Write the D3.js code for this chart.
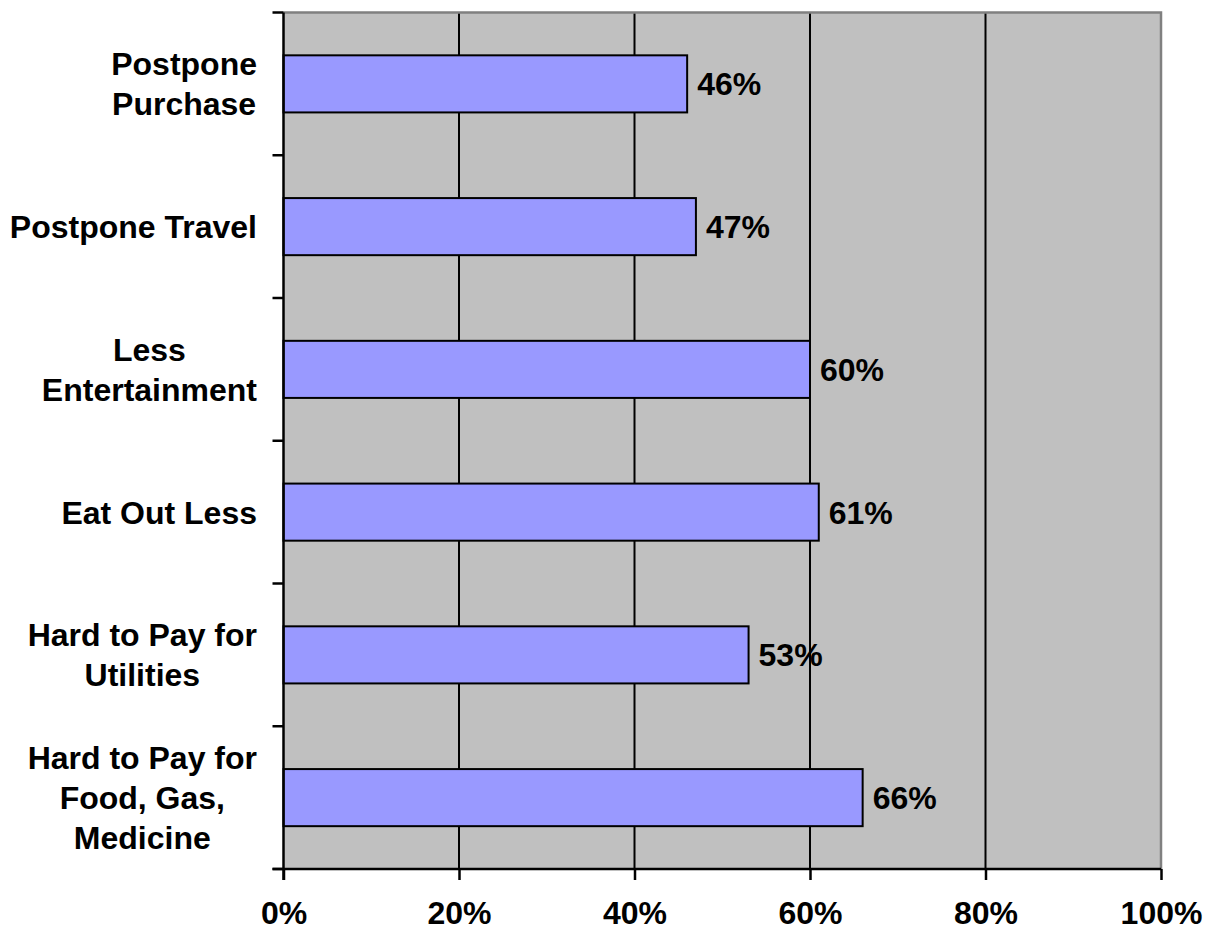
<!DOCTYPE html>
<html>
<head>
<meta charset="utf-8">
<script src="https://cdn.jsdelivr.net/npm/d3@7"></script>
<style>
  body { margin: 0; background: #fff; }
  text { font-family: Arial, "Liberation Sans", sans-serif; font-weight: bold; fill: #000; }
</style>
</head>
<body>
<div class="chart"></div>
<script>
const categories = [
  'Postpone\nPurchase',
  'Postpone Travel',
  'Less\nEntertainment',
  'Eat Out Less',
  'Hard to Pay for\nUtilities',
  'Hard to Pay for\nFood, Gas,\nMedicine'
];
const values = [46, 47, 60, 61, 53, 66];
const xTicks = [0, 20, 40, 60, 80, 100];

const FULL_WIDTH = 1215;
const FULL_HEIGHT = 931;
const FONT = '32px';
const margin = { top: 12.5, right: 54, bottom: 62, left: 283.5 };
const width = FULL_WIDTH - margin.left - margin.right;
const height = FULL_HEIGHT - margin.top - margin.bottom;

const svg = d3.select('.chart')
  .append('svg')
    .attr('width', FULL_WIDTH)
    .attr('height', FULL_HEIGHT)
  .append('g')
    .attr('transform', `translate(${margin.left}, ${margin.top})`);

const xScale = d3.scaleLinear()
  .domain([0, 100])
  .range([0, width]);

// bands for the category ticks, and a padded copy for the bars
const yScale = d3.scaleBand()
  .domain(categories)
  .range([0, height])
  .padding(0);
const barScale = d3.scaleBand()
  .domain(categories)
  .range([0, height])
  .paddingInner(0.6)
  .paddingOuter(0.3);

// plot background
svg.append('rect')
  .attr('width', width)
  .attr('height', height)
  .attr('fill', '#c0c0c0');

// grid lines
svg.selectAll('.grid')
  .data(xTicks.slice(1, -1))
  .enter()
  .append('line')
    .attr('x1', d => xScale(d))
    .attr('x2', d => xScale(d))
    .attr('y1', 0)
    .attr('y2', height)
    .attr('stroke', '#000')
    .attr('stroke-width', 2);

// gray frame on top and right
svg.append('path')
  .attr('d', `M0,0H${width}V${height}`)
  .attr('fill', 'none')
  .attr('stroke', '#808080')
  .attr('stroke-width', 2.5);

// bars
svg.selectAll('.bar')
  .data(values)
  .enter()
  .append('rect')
    .attr('x', 0)
    .attr('y', (d, i) => barScale(categories[i]))
    .attr('width', d => xScale(d))
    .attr('height', barScale.bandwidth())
    .attr('fill', '#9999ff')
    .attr('stroke', '#000')
    .attr('stroke-width', 2);

// value labels
svg.selectAll('.val')
  .data(values)
  .enter()
  .append('text')
    .attr('x', d => xScale(d) + 10)
    .attr('y', (d, i) => barScale(categories[i]) + barScale.bandwidth() / 2)
    .attr('dy', '0.36em')
    .style('font-size', FONT)
    .text(d => d + '%');

// x axis
const xAxis = svg.append('g')
  .attr('transform', `translate(0, ${height})`)
  .call(d3.axisBottom(xScale)
    .tickValues(xTicks)
    .tickSize(11)
    .tickPadding(21)
    .tickFormat(d => d + '%'));
xAxis.select('.domain').attr('stroke', '#000').attr('stroke-width', 2.5)
  .attr('d', `M-11,0H${width}`);
xAxis.selectAll('.tick line').attr('stroke', '#000').attr('stroke-width', 2.5);
xAxis.selectAll('.tick text')
  .style('font-size', FONT)
  .style('font-family', 'Arial, "Liberation Sans", sans-serif');

// y axis: ticks at band boundaries, labels drawn separately
const yAxis = svg.append('g');
yAxis.append('line')
  .attr('x1', 0).attr('x2', 0)
  .attr('y1', 0).attr('y2', height + 11)
  .attr('stroke', '#000').attr('stroke-width', 2.5);
const boundaries = categories.map(c => yScale(c)).concat([height]);
yAxis.selectAll('.ytick')
  .data(boundaries)
  .enter()
  .append('line')
    .attr('x1', -11).attr('x2', 0)
    .attr('y1', d => d).attr('y2', d => d)
    .attr('stroke', '#000').attr('stroke-width', 2.5);

// category labels: block right aligned, lines centered within block
const lineHeight = 40;
const labelRight = 257 - margin.left;
categories.forEach(c => {
  const lines = c.split('\n');
  const g = svg.append('g');
  const texts = g.selectAll('text')
    .data(lines)
    .enter()
    .append('text')
      .style('font-size', FONT)
      .attr('text-anchor', 'middle')
      .attr('y', (d, i) => yScale(c) + yScale.bandwidth() / 2 + (i - (lines.length - 1) / 2) * lineHeight)
      .attr('dy', '0.36em')
      .text(d => d);
  let maxW = 0;
  texts.each(function () { maxW = Math.max(maxW, this.getComputedTextLength()); });
  texts.attr('x', labelRight - maxW / 2);
});
</script>
</body>
</html>
